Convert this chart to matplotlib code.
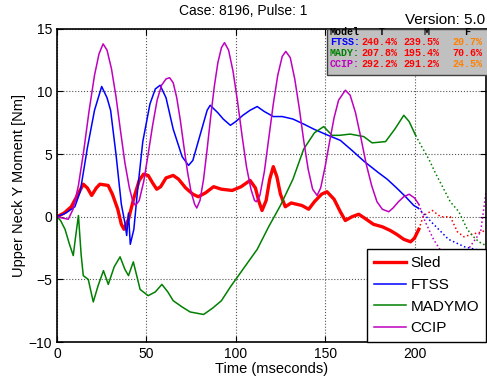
import matplotlib
matplotlib.use('Agg')
import matplotlib.pyplot as plt

# Sled (thick red)
sled_t = [0, 4, 8, 11, 14.7, 17, 19.4, 22, 24, 28.6, 31, 34, 36, 37.5, 40, 43, 46, 48.4, 51, 53.5,
          55.8, 58, 61, 65, 68, 72, 76, 79, 83, 87.6, 92, 98, 103, 108, 111, 113, 114.7, 117, 119, 121,
          123, 125, 127.7, 131, 134, 137, 140.8, 144, 148, 151, 155, 158.5, 161.3, 165, 168.8, 172, 177,
          182, 186.5, 190, 194, 197.8, 200, 202.4]
sled_v = [0, 0.3, 0.8, 1.6, 2.6, 2.3, 1.7, 2.3, 2.6, 2.5, 1.8, 0.6, -0.6, -1.0, -0.2, 1.5, 2.9, 3.4, 3.3, 2.7,
          2.2, 2.4, 3.1, 3.3, 3.0, 2.3, 1.8, 1.6, 1.9, 2.4, 2.2, 2.1, 2.4, 2.9, 2.3, 1.2, 0.5, 1.3, 3.0, 4.0,
          3.2, 1.8, 0.8, 1.1, 1.0, 0.9, 0.6, 1.2, 1.8, 2.0, 1.4, 0.4, -0.3, 0.0, 0.2, -0.1, -0.6,
          -0.8, -1.1, -1.4, -1.8, -2.0, -1.7, -1.0]
sled_t2 = [202.4, 205, 210, 214.6, 220, 224, 227.6, 232, 238, 240]
sled_v2 = [-1.0, 0.1, 0.5, 0.0, 0.0, -1.2, -1.6, -1.4, -1.2, -1.0]

# FTSS (blue)
ftss_t = [0, 5, 10, 13, 17, 21, 25, 28, 30, 33, 36, 38, 39, 40, 41, 43, 45, 48, 52, 55, 57.7,
          61, 65, 70, 73.6, 76, 80, 84, 85.7, 90, 93, 97, 100, 104, 108, 112, 116, 121, 126, 132, 138,
          143.6, 150, 158.5, 165, 172, 180, 184.7, 190, 195, 199.6, 202]
ftss_v = [0, 0.3, 0.8, 2.0, 5.5, 8.5, 10.4, 9.5, 8.5, 5.0, 1.0, -0.5, -1.5, 0.3, -2.2, -1.0, 2.0, 6.0, 9.0, 10.2, 10.5,
          9.5, 7.0, 4.8, 4.1, 4.5, 6.5, 8.5, 8.9, 8.3, 7.8, 7.3, 7.6, 8.1, 8.5, 8.8, 8.4, 8.0, 8.0, 7.8, 7.4,
          7.0, 6.6, 6.1, 5.3, 4.4, 3.5, 3.0, 2.3, 1.6, 0.9, 0.7]
ftss_t2 = [202, 210, 219, 228, 240]
ftss_v2 = [0.7, -0.5, -1.8, -2.4, -2.8]

# MADYMO (green)
mady_t = [0, 2, 4.5, 7, 9.1, 10.5, 12, 13.5, 14.7, 17.5, 20.3, 23, 26, 28.7, 32, 35.3, 38, 40, 42.7,
          46.5, 51, 55, 58.7, 62, 65, 70, 74.5, 82, 87, 92, 97, 102, 112, 118.4, 125, 132, 138, 144, 149.2,
          153.9, 158, 164, 171.6, 176.3, 183.8, 189, 194, 197, 200.6]
mady_v = [0, -0.3, -1.0, -2.2, -3.1, -1.5, 0.1, -3.0, -4.7, -5.0, -6.8, -5.5, -4.3, -5.4, -4.0, -3.2, -4.2, -4.7, -3.6,
          -5.8, -6.3, -6.0, -5.4, -6.0, -6.7, -7.2, -7.6, -7.8, -7.3, -6.7, -5.6, -4.6, -2.6, -0.8, 0.9, 3.0, 5.4, 6.7, 7.2,
          6.5, 6.5, 6.6, 6.4, 5.9, 6.0, 7.0, 8.1, 7.6, 6.5]
mady_t2 = [200.6, 204, 208, 212, 216.4, 220, 224.8, 229.5, 232.3, 236, 240]
mady_v2 = [6.5, 5.6, 4.6, 3.4, 2.2, 1.2, 0.4, -1.0, -1.5, -2.0, -2.3]

# CCIP (magenta)
ccip_t = [0, 3, 6.3, 9, 12, 15, 18, 21, 23.5, 25.8, 28, 30.5, 33, 35.5, 38, 40.5, 42.5, 44,
          46, 48.5, 51, 53.5, 56, 58.5, 61, 63, 65, 67, 69, 71, 73, 75, 77, 78.2,
          80, 82, 84, 86, 88, 90, 92, 93.7, 96, 98.5, 101, 103.5, 106, 108.5, 110.5, 111.5,
          113.5, 116, 118.5, 121, 123.5, 126, 128, 130.5, 133, 135.5, 138, 140.5, 143, 145.5,
          147.5, 150, 152.5, 155, 157.5, 161.3, 164, 167, 170, 173, 176, 179, 182, 185.6,
          188, 191, 194, 197, 200, 202.4]
ccip_v = [0, -0.1, -0.2, 0.6, 2.5, 5.3, 8.5, 11.3, 13.0, 13.8, 13.3, 11.8, 9.6, 6.9, 4.3, 2.3, 1.2, 0.9,
          1.3, 2.8, 5.0, 7.3, 9.3, 10.5, 11.0, 11.1, 10.7, 9.5, 7.7, 5.6, 3.6, 2.0, 1.0, 0.7,
          1.3, 3.0, 5.4, 8.0, 10.4, 12.3, 13.5, 13.9, 13.3, 11.6, 9.2, 6.5, 4.0, 2.2, 1.3, 1.2,
          1.7, 3.6, 6.3, 9.0, 11.3, 12.8, 13.2, 12.7, 11.0, 8.7, 6.1, 3.8, 2.2, 1.7,
          2.3, 4.0, 6.0, 7.9, 9.3, 10.1, 9.7, 8.3, 6.3, 4.2, 2.5, 1.2, 0.6, 0.4,
          0.7, 1.2, 1.6, 1.8, 1.5, 1.0]
ccip_t2 = [202.4, 206, 210.6, 216, 222, 228, 233, 237, 240]
ccip_v2 = [1.0, -0.4, -1.8, -3.0, -3.5, -3.0, -2.0, -1.2, 2.0]

table_rows = ['Model', 'FTSS:', 'MADY:', 'CCIP:']
table_T = ['T', '240.4%', '207.8%', '292.2%']
table_M = ['M', '239.5%', '195.4%', '291.2%']
table_F = ['F', '20.7%', '70.6%', '24.5%']

red = '#ff0000'
blue = '#0000ff'
green = '#008000'
magenta = '#bf00bf'
orange = '#ff8000'

plt.rcParams['font.family'] = ['Liberation Sans', 'DejaVu Sans']

fig = plt.figure(figsize=(4.87, 3.9), dpi=100)
ax = fig.add_axes([0.117, 0.123, 0.881, 0.803])

ax.plot(sled_t, sled_v, color=red, lw=2.4, label='Sled')
ax.plot(ftss_t, ftss_v, color=blue, lw=1.1, label='FTSS')
ax.plot(mady_t, mady_v, color=green, lw=1.1, label='MADYMO')
ax.plot(ccip_t, ccip_v, color=magenta, lw=1.1, label='CCIP')

ax.plot(sled_t2, sled_v2, color=red, lw=1.1, ls=':')
ax.plot(ftss_t2, ftss_v2, color=blue, lw=1.1, ls=':')
ax.plot(mady_t2, mady_v2, color=green, lw=1.1, ls=':')
ax.plot(ccip_t2, ccip_v2, color=magenta, lw=1.1, ls=':')

ax.set_xlim(0, 240)
ax.set_ylim(-10, 15)
ax.set_xticks([0, 50, 100, 150, 200])
ax.set_yticks([-10, -5, 0, 5, 10, 15])
ax.grid(True, ls=':', color='#555555', lw=0.8)
ax.tick_params(direction='in', top=True, right=True, labelsize=10, length=4)
for s in ax.spines.values():
    s.set_linewidth(1.2)

ax.set_xlabel('Time (mseconds)', fontsize=10.5, labelpad=1)
ax.set_ylabel('Upper Neck Y Moment [Nm]', fontsize=10.5, labelpad=2)
fig.text(0.5, 0.972, 'Case: 8196, Pulse: 1', ha='center', va='center', fontsize=10)
fig.text(0.997, 0.948, 'Version: 5.0', ha='right', va='center', fontsize=11)

leg = ax.legend(loc='lower right', fontsize=11, frameon=True, fancybox=False,
                edgecolor='black', framealpha=1, borderaxespad=0, handlelength=2.1,
                handletextpad=0.3, labelspacing=0.5, borderpad=0.45)
leg.get_frame().set_linewidth(1.0)

# statistics table
box = plt.Rectangle((0.672, 0.808), 0.33, 0.118, transform=fig.transFigure,
                    facecolor='#c0c0c0', edgecolor='#404040', lw=1.0, zorder=5)
fig.patches.append(box)
row_colors = ['black', blue, green, magenta]
F_colors = ['black', orange, red, orange]
ys = [0.918, 0.892, 0.864, 0.836]
mono = dict(family='Liberation Mono', fontsize=7.2, fontweight='bold', va='center', zorder=6)
for i in range(4):
    fig.text(0.677, ys[i], table_rows[i], color=row_colors[i], ha='left', **mono)
    if i:
        fig.text(0.815, ys[i], table_T[i], color=red, ha='right', **mono)
        fig.text(0.903, ys[i], table_M[i], color=red, ha='right', **mono)
        fig.text(0.990, ys[i], table_F[i], color=F_colors[i], ha='right', **mono)
    else:
        fig.text(0.784, ys[i], table_T[i], color='black', ha='center', **mono)
        fig.text(0.875, ys[i], table_M[i], color='black', ha='center', **mono)
        fig.text(0.959, ys[i], table_F[i], color='black', ha='center', **mono)

fig.savefig('out.png', dpi=100)
